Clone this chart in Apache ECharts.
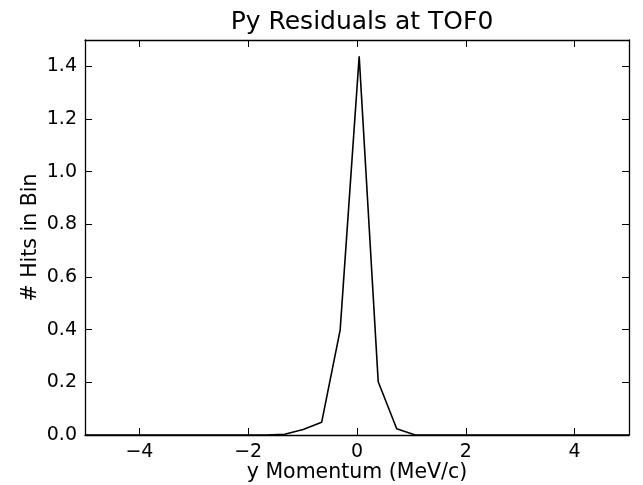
<!DOCTYPE html>
<html><head><meta charset="utf-8">
<script src="https://cdn.jsdelivr.net/npm/echarts@6/dist/echarts.min.js"></script>
<style>html,body{margin:0;padding:0;background:#fff}#c{width:643px;height:485px}</style>
</head><body><div id="c"></div>
<script>
var xVals = [-5.0, -1.67, -1.33, -0.99, -0.65, -0.31, 0.04, 0.39, 0.73, 1.07, 5.0];
var yVals = [0.0, 0.0, 0.003, 0.021, 0.048, 0.398, 1.438, 0.202, 0.024, 0.0, 0.0];
var xTicks = [-4, -2, 0, 2, 4];
var yTicks = [0.0, 0.2, 0.4, 0.6, 0.8, 1.0, 1.2, 1.4];
var titleText = 'Py Residuals at TOF0';
var xName = 'y Momentum (MeV/c)';
var yName = '# Hits in Bin';

var font = 'DejaVu Sans';
var chart = echarts.init(document.getElementById('c'));
var pts = xVals.map(function(x, i){ return [x, yVals[i]]; });
var tickStyle = {show:true, inside:true, length:7, lineStyle:{color:'#000', width:1}};
chart.setOption({
  animation:false,
  title:{text:titleText, left:357, top:5, textAlign:'center',
    textStyle:{fontFamily:font, fontSize:25, fontWeight:'normal', color:'#000'}},
  grid:{left:85, right:14, top:40, bottom:50, containLabel:false, outerBoundsMode:'none'},
  xAxis:[{type:'value', min:-5, max:5, position:'bottom',
    name:xName, nameLocation:'middle', nameGap:27, nameMoveOverlap:false,
    nameTextStyle:{fontFamily:font, fontSize:20.5, color:'#000'},
    axisLine:{show:true, onZero:false, lineStyle:{color:'#000', width:1.3}},
    axisTick:Object.assign({customValues:xTicks}, tickStyle),
    axisLabel:{customValues:xTicks, fontFamily:font, fontSize:19, color:'#000', margin:8,
      formatter:function(v){ return v < 0 ? '\u2212' + Math.abs(v) : String(v); }},
    splitLine:{show:false}},
   {type:'value', min:-5, max:5, position:'top',
    axisLine:{show:true, onZero:false, lineStyle:{color:'#000', width:1.3}},
    axisTick:Object.assign({customValues:xTicks}, tickStyle),
    axisLabel:{show:false}, splitLine:{show:false}}],
  yAxis:[{type:'value', min:0, max:1.5, position:'left',
    name:yName, nameLocation:'middle', nameGap:44, nameRotate:90, nameMoveOverlap:false,
    nameTextStyle:{fontFamily:font, fontSize:20.5, color:'#000'},
    axisLine:{show:true, onZero:false, lineStyle:{color:'#000', width:1.3}},
    axisTick:Object.assign({customValues:yTicks}, tickStyle),
    axisLabel:{customValues:yTicks, fontFamily:font, fontSize:19, color:'#000', margin:8,
      formatter:function(v){ return v.toFixed(1); }},
    splitLine:{show:false}},
   {type:'value', min:0, max:1.5, position:'right',
    axisLine:{show:true, onZero:false, lineStyle:{color:'#000', width:1.3}},
    axisTick:Object.assign({customValues:yTicks}, tickStyle),
    axisLabel:{show:false}, splitLine:{show:false}}],
  series:[{type:'line', data:pts, xAxisIndex:0, yAxisIndex:0, showSymbol:false,
    lineStyle:{color:'#000', width:1.6}, clip:true}]
});
</script></body></html>
